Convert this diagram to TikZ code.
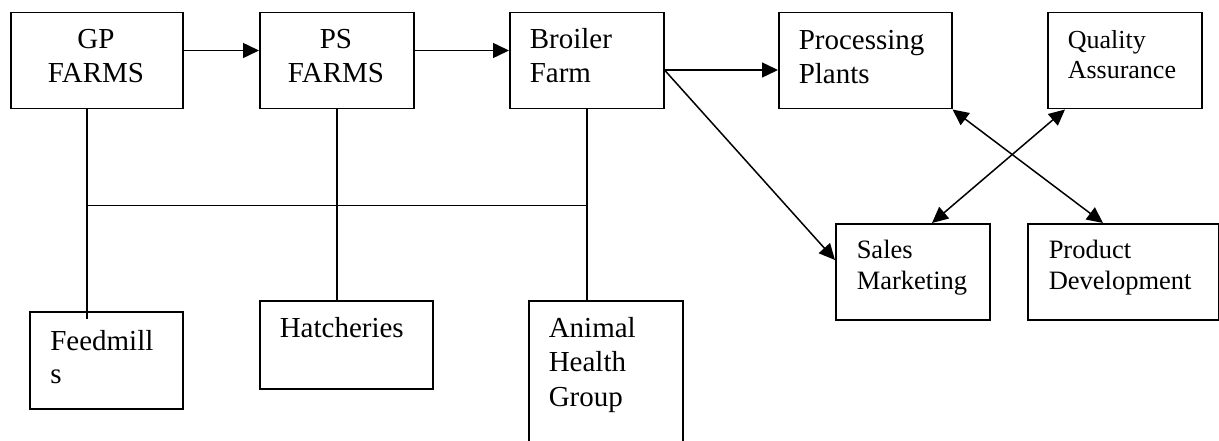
\documentclass[tikz,border=0pt]{standalone}
\usepackage{fontspec}
\setmainfont{Liberation Serif}
\usetikzlibrary{arrows.meta,calc}
\begin{document}
\begin{tikzpicture}[x=1pt,y=-1pt, line width=1.5pt,
  box/.style={draw, line width=1.5pt, inner sep=0pt, anchor=north west},
  lbl/.style={inner sep=0pt, anchor=base west, font=\fontsize{29}{33.5}\selectfont},
  arr/.style={-{Triangle[length=16pt,width=15pt]}},
  biarr/.style={{Triangle[length=16pt,width=15pt]}-{Triangle[length=16pt,width=15pt]}}]
\useasboundingbox (0,0) rectangle (1219,441);
\clip (0,0) rectangle (1219,441);
% boxes
\node[box, minimum width=172pt, minimum height=96pt] (gp) at (10,12) {};
\node[box, minimum width=154pt, minimum height=96pt] (ps) at (259,12) {};
\node[box, minimum width=154pt, minimum height=96pt] (broiler) at (509,12) {};
\node[box, minimum width=173pt, minimum height=96pt] (proc) at (778,12) {};
\node[box, minimum width=154pt, minimum height=96pt] (qa) at (1047,12) {};
\node[box, minimum width=154pt, minimum height=96pt] (sales) at (835,223) {};
\node[box, minimum width=191pt, minimum height=96pt] (pd) at (1027,223) {};
\node[box, minimum width=153pt, minimum height=97pt] (feed) at (29,311) {};
\node[box, minimum width=173pt, minimum height=88pt] (hatch) at (259,300) {};
\node[box, minimum width=154pt, minimum height=170pt] (animal) at (528,300) {};
% texts
\node[lbl, anchor=base] (gpt) at (96,49) {\parbox[t]{172pt}{\centering GP\\FARMS}};
\node[lbl, anchor=base] (pst) at (336,49) {\parbox[t]{154pt}{\centering PS\\FARMS}};
\node[lbl] (brt) at (529,49) {\parbox[t]{140pt}{Broiler\\Farm}};
\node[lbl] (prt) at (798,50) {\parbox[t]{150pt}{Processing\\Plants}};
\node[lbl, font=\fontsize{26}{29.5}\selectfont] (qat) at (1067,49) {\parbox[t]{140pt}{Quality\\Assurance}};
\node[lbl, font=\fontsize{26.5}{32}\selectfont] (sat) at (856,258) {\parbox[t]{140pt}{Sales\\Marketing}};
\node[lbl, font=\fontsize{26.5}{32}\selectfont] (pdt) at (1048,258) {\parbox[t]{170pt}{Product\\Development}};
\node[lbl] (fet) at (49.5,350) {\parbox[t]{130pt}{Feedmill\\s}};
\node[lbl] (hat) at (279,337) {\parbox[t]{150pt}{Hatcheries}};
\node[lbl, font=\fontsize{29}{34.5}\selectfont] (ant) at (548,337) {\parbox[t]{130pt}{Animal\\Health\\Group}};
% arrows along the top
\coordinate (a1) at ($(gp.north east)+(0,38.5)$);
\draw[arr] (a1) -- (a1 -| ps.west);
\coordinate (a2) at ($(ps.north east)+(0,38.5)$);
\draw[arr] (a2) -- (a2 -| broiler.west);
\coordinate (b1) at ($(broiler.north east)+(0,58)$);
\draw[arr] (b1) -- (b1 -| proc.west);
\coordinate (s1) at ($(sales.north west)+(0,37)$);
\draw[arr] (b1) -- (s1);
\coordinate (pd1) at ($(pd.north west)+(76,0)$);
\draw[biarr] (proc.south east) -- (pd1);
\coordinate (qa1) at ($(qa.south west)+(18,0)$);
\coordinate (sa1) at ($(sales.north west)+(97,0)$);
\draw[biarr] (qa1) -- (sa1);
% tree lines
\coordinate (gpd) at ($(gp.south west)+(77,0)$);
\coordinate (fe) at ($(gpd |- feed.north)+(0,8)$);
\draw (gpd) -- (fe);
\draw (ps.south) -- (ps.south |- hatch.north);
\draw (broiler.south) -- (broiler.south |- animal.north);
\coordinate (hl) at ($(gpd)+(0,96)$);
\draw (hl) -- (hl -| broiler.south);
\end{tikzpicture}
\end{document}
